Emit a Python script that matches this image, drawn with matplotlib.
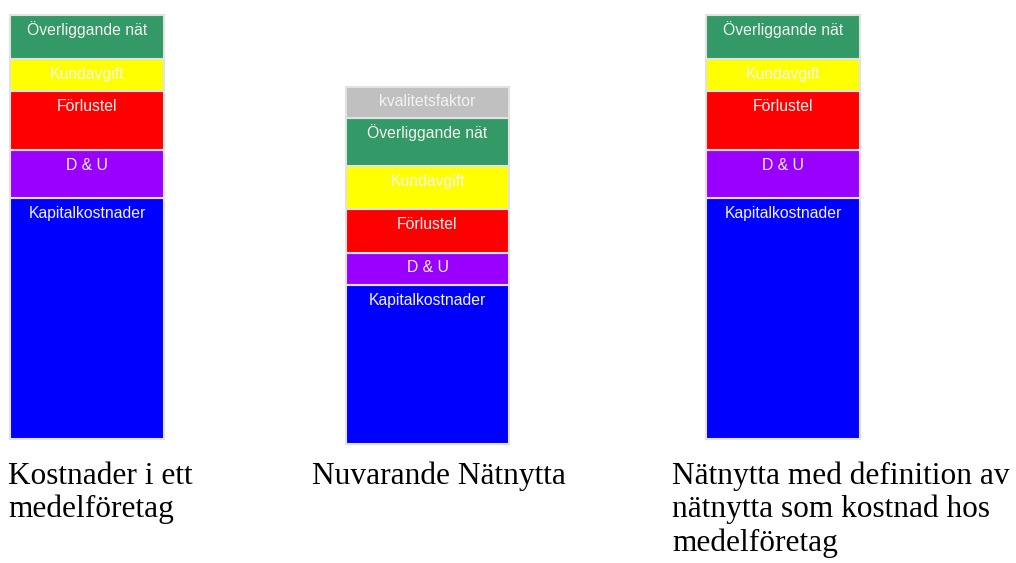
import matplotlib.pyplot as plt

# segment names, bottom to top
segments = ["Kapitalkostnader", "D & U", "Förlustel", "Kundavgift",
            "Överliggande nät", "kvalitetsfaktor"]
seg_colors = ["#0000ff", "#9900ff", "#ff0000", "#ffff00", "#339966", "#c0c0c0"]

# segment heights
kostnader_medel = [241, 48, 59, 32.5, 44, 0]
nuvarande = [159.5, 32, 43.5, 43, 48, 31.5]
definition = [241, 48, 59, 32.5, 44, 0]
bars = [kostnader_medel, nuvarande, definition]

captions = [
    ["Kostnader i ett", "medelföretag"],
    ["Nuvarande Nätnytta"],
    ["Nätnytta med definition av", "nätnytta som kostnad hos", "medelföretag"],
]

W, H = 1016, 563
fig = plt.figure(figsize=(W / 100, H / 100), dpi=100)

# layout in pixels
bar_left = [10, 346, 706]
bar_right = [164, 509, 860]
bar_base = [439, 444, 439]
cap_x = [8, 312, 672]
cap_base = 484
cap_step = 33.5

for i, vals in enumerate(bars):
    total = sum(vals)
    ax = fig.add_axes([bar_left[i] / W, (H - bar_base[i]) / H,
                       (bar_right[i] - bar_left[i]) / W, total / H])
    bottom = 0
    for name, v, c in zip(segments, vals, seg_colors):
        if v <= 0:
            continue
        ax.bar(0, v, bottom=bottom, width=1, color=c, edgecolor="#e2e2e2",
               linewidth=1.5, clip_on=False)
        ax.annotate(name, xy=(0, bottom + v), xytext=(0, -20),
                    textcoords="offset pixels", ha="center", va="baseline",
                    color="#f2f2f2", fontsize=11.3, family="Liberation Sans")
        bottom += v
    ax.set_xlim(-0.5, 0.5)
    ax.set_ylim(0, total)
    ax.axis("off")

    for j, line in enumerate(captions[i]):
        fig.text(cap_x[i] / W, (H - cap_base - j * cap_step) / H, line,
                 ha="left", va="baseline", fontsize=22.6,
                 family="Liberation Serif", color="black")

fig.savefig("out.png", dpi=100)
